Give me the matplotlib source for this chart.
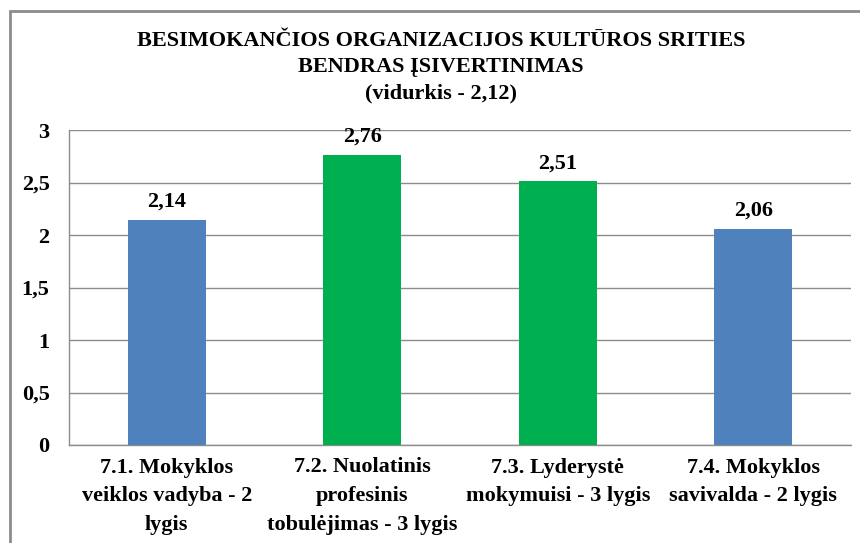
import matplotlib
matplotlib.use("Agg")
import matplotlib.pyplot as plt
from matplotlib.patches import Rectangle

# data
categories = ["7.1. Mokyklos\nveiklos vadyba - 2\nlygis",
              "7.2. Nuolatinis\nprofesinis\ntobulėjimas - 3 lygis",
              "7.3. Lyderystė\nmokymuisi - 3 lygis",
              "7.4. Mokyklos\nsavivalda - 2 lygis"]
values = [2.14, 2.76, 2.51, 2.06]
value_labels = ["2,14", "2,76", "2,51", "2,06"]
levels = [2, 3, 3, 2]
yticks = [0, 0.5, 1, 1.5, 2, 2.5, 3]
ytick_labels = ["0", "0,5", "1", "1,5", "2", "2,5", "3"]
title = "BESIMOKANČIOS ORGANIZACIJOS KULTŪROS SRITIES\nBENDRAS ĮSIVERTINIMAS\n(vidurkis - 2,12)"

plt.rcParams['font.family'] = ['Liberation Serif', 'DejaVu Serif']
plt.rcParams['font.weight'] = 'bold'

level_colors = {2: '#4F81BD', 3: '#00B050'}
colors = [level_colors[l] for l in levels]

fig = plt.figure(figsize=(8.6, 5.43), dpi=100)
ax = fig.add_axes([69/860, 1-445/543, (851-69)/860, (445-130)/543])

x = range(len(values))
bars = ax.bar(x, values, width=0.4, color=colors, zorder=3)
for xi, v, lab in zip(x, values, value_labels):
    ax.annotate(lab, xy=(xi, v), xytext=(0, 6), textcoords='offset points',
                ha='center', va='bottom', fontsize=16, fontweight='bold')

ax.set_ylim(0, 3)
ax.set_xlim(-0.5, len(values)-0.5)
ax.set_yticks(yticks)
ax.set_yticklabels(ytick_labels, fontsize=16, fontweight='bold')
ax.set_xticks(list(x))
ax.set_xticklabels(categories, fontsize=16, fontweight='bold', linespacing=1.57)
ax.tick_params(axis='y', length=0, pad=14)
ax.tick_params(axis='x', length=0, pad=9)
ax.grid(axis='y', color='#8c8c8c', linewidth=1, zorder=0)
for s in ['top', 'right']:
    ax.spines[s].set_visible(False)
for s in ['left', 'bottom']:
    ax.spines[s].set_color('#8c8c8c')
    ax.spines[s].set_linewidth(1)

fig.text(441/860, 1-31/543, title, ha='center', va='top', fontsize=16,
         fontweight='bold', linespacing=1.4)

# outer chart border
fig.patches.append(Rectangle((10/860, -0.1), 1.1, 1.1-11/543, transform=fig.transFigure,
                             fill=False, edgecolor='#8c8c8c', linewidth=2))

fig.savefig("out.png", dpi=100)
